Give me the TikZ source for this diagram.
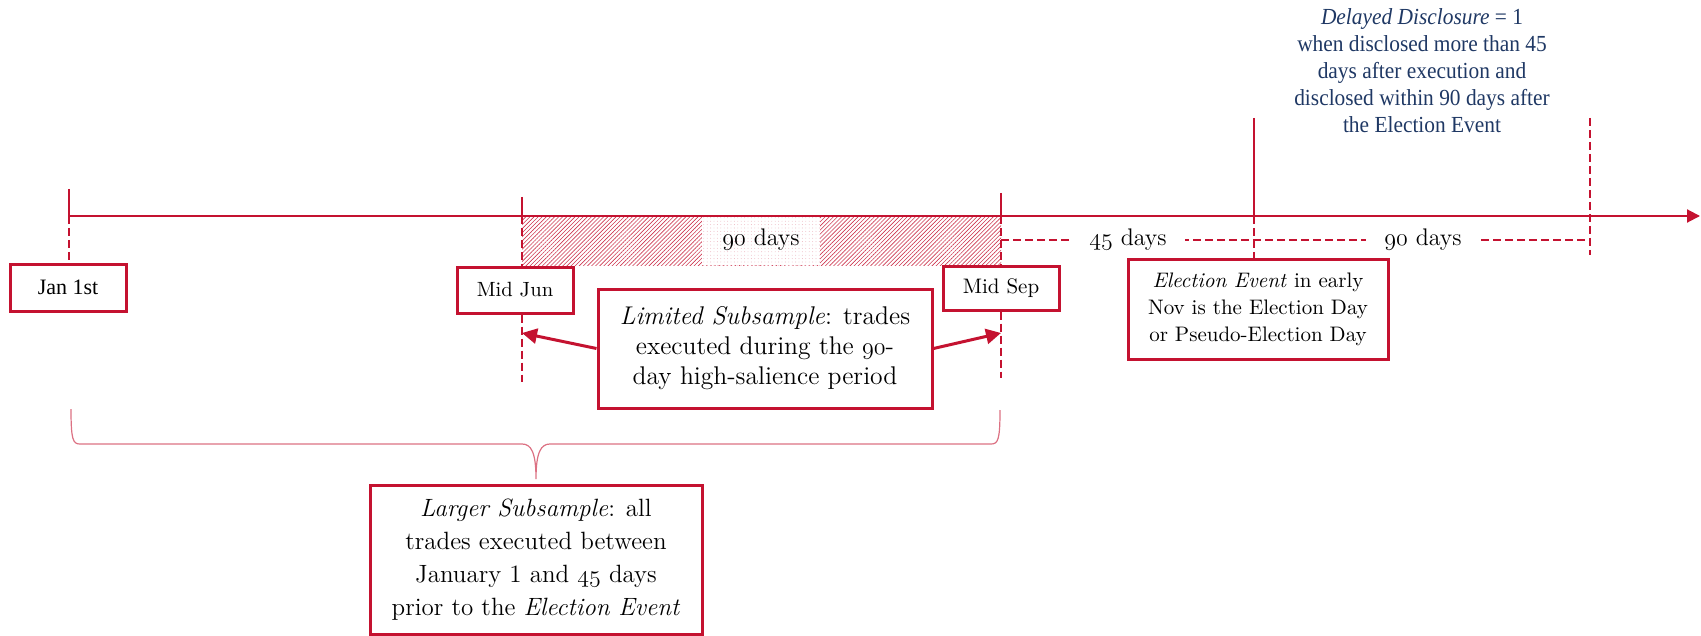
\documentclass[tikz,border=0pt]{standalone}
\usepackage{fontspec}
\usetikzlibrary{arrows.meta,patterns.meta}
\newfontfamily\tnr{Liberation Serif}
\newfontfamily\tnrc{Liberation Serif}[FakeStretch=0.93]
\newcommand\osn[1]{{\usefont{OML}{lmm}{m}{it}#1}}
\definecolor{cred}{RGB}{196,18,48}
\definecolor{navy}{RGB}{31,56,100}
\begin{document}
\begin{tikzpicture}[x=0.5pt,y=-0.5pt,
  box/.style={draw=cred,line width=1.5pt,fill=white,inner sep=0pt,align=center,text=black},
  soltick/.style={draw=cred,line width=1pt},
  dtick/.style={draw=cred,line width=1pt,dash pattern=on 4pt off 2pt},
  larrow/.style={draw=cred,line width=1.5pt,-{Triangle[length=7.5pt,width=7.5pt]}},
  daylbl/.style={fill=white,inner xsep=9pt,inner ysep=1pt,font=\fontsize{12}{14}\selectfont},
  bracestyle/.style={draw=cred!60,line width=0.6pt}]
\useasboundingbox (0,0) rectangle (1701,636);
% hatched period
\fill[pattern={Lines[angle=45,distance=1.45pt,line width=0.3pt]},pattern color=cred!85] (522,216) rectangle (1001,265);
\fill[white] (702,216) rectangle (820,265);
\fill[pattern={Dots[distance=1.7pt,radius=0.22pt]},pattern color=cred!35] (702,216) rectangle (820,265);
\node[font=\fontsize{12}{14}\selectfont] (ninety) at (761,240) {\osn{90} days};
% coordinates
\coordinate (janT) at (69,189);   \coordinate (janA) at (69,216);
\coordinate (junT) at (522,197);  \coordinate (junA) at (522,216);
\coordinate (sepT) at (1001,193); \coordinate (sepA) at (1001,216);
\coordinate (elT) at (1254,118);  \coordinate (elA) at (1254,216);
\coordinate (rT) at (1590,118);   \coordinate (rB) at (1590,255);
\coordinate (axEnd) at (1700,216);
\coordinate (sepH) at (1001,240); \coordinate (rH) at (1590,240);
\coordinate (junB) at (522,382);  \coordinate (sepB) at (1001,378);
\coordinate (junArr) at (522,333); \coordinate (sepArr) at (1001,333);
% boxes
\node[box,minimum width=58pt,minimum height=23.5pt,font=\tnr\fontsize{11}{13}\selectfont] (jan) at (68,287.5) {Jan 1st};
\node[box,minimum width=58pt,minimum height=23pt,font=\fontsize{10.3}{12}\selectfont] (jun) at (515,290) {Mid Jun};
\node[box,minimum width=58pt,minimum height=22pt,font=\fontsize{10.5}{12}\selectfont] (sep) at (1001,288) {Mid Sep};
\node[box,minimum width=167pt,minimum height=59.5pt,font=\fontsize{12.8}{15}\selectfont] (lim) at (765,348.5)
  {\textit{Limited Subsample}: trades\\executed during the \osn{90}-\\day high-salience period};
\node[box,minimum width=130pt,minimum height=50pt,font=\fontsize{10.5}{13.5}\selectfont] (elec) at (1258,309)
  {\textit{Election Event} in early\\Nov is the Election Day\\or Pseudo-Election Day};
\node[box,minimum width=166pt,minimum height=74.5pt,font=\fontsize{12.5}{16.5}\selectfont] (lar) at (536,559.5)
  {\textit{Larger Subsample}: all\\trades executed between\\January 1 and \osn{45} days\\prior to the \textit{Election Event}};
\node[text=navy,align=center,font=\tnrc\fontsize{11.5}{13.5}\selectfont] (dd) at (1422,71)
  {\textit{Delayed Disclosure} = 1\\when disclosed more than 45\\days after execution and\\disclosed within 90 days after\\the Election Event};
% axis
\draw[cred,line width=1pt,-{Triangle[length=6.5pt,width=6.5pt]}] (janA) -- (axEnd);
% ticks
\draw[soltick] (janT) -- (janA);
\draw[dtick] (janA) -- (janA |- jan.north);
\draw[soltick] (junT) -- (junA);
\draw[dtick] (junA) -- (junA |- jun.north);
\draw[dtick] (junA |- jun.south) -- (junB);
\draw[soltick] (sepT) -- (sepA);
\draw[dtick] (sepA) -- (sepA |- sep.north);
\draw[dtick] (sepA |- sep.south) -- (sepB);
\draw[soltick] (elT) -- (elA);
\draw[dtick] (elA) -- (elA |- elec.north);
\draw[dtick] (rT) -- (rB);
\draw[dtick] (sepH) -- (rH);
\node[daylbl] (d45) at (1128,240) {\osn{45} days};
\node[daylbl] (d90) at (1423,240) {\osn{90} days};
% arrows
\draw[larrow] (lim.west) -- (junArr);
\draw[larrow] (lim.east) -- (sepArr);
% brace
\draw[bracestyle] (71,409) .. controls (71,440) and (73,444) .. (80,444) -- (522,444)
  .. controls (531,444) and (536,452) .. (536,479)
  .. controls (536,452) and (541,444) .. (550,444) -- (991,444)
  .. controls (998,444) and (1000,440) .. (1000,410);
\end{tikzpicture}
\end{document}
